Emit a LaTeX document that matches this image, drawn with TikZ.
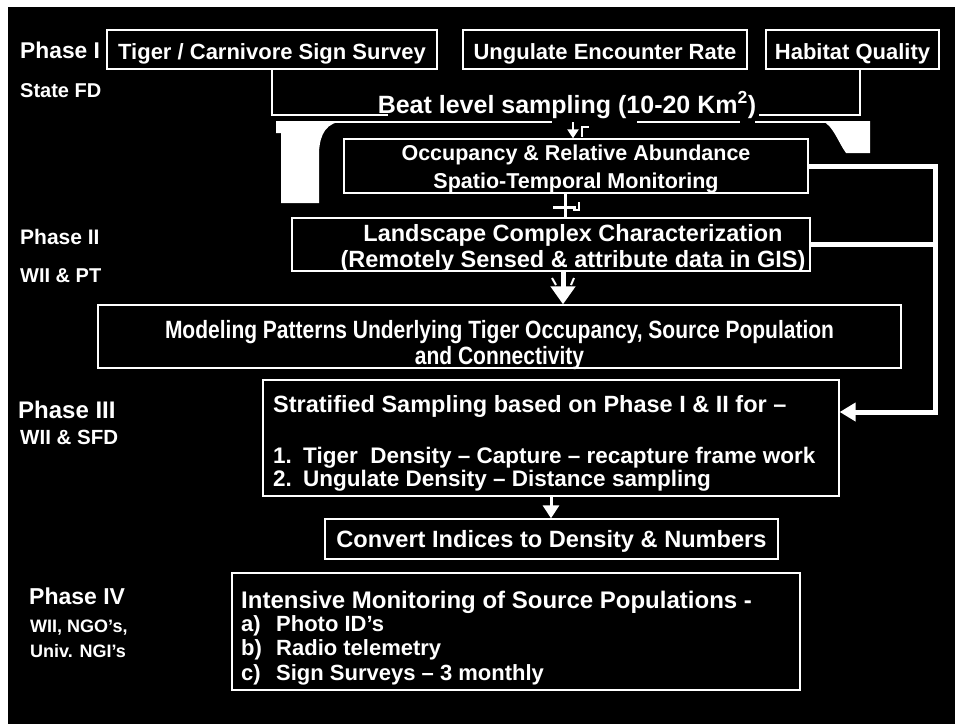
\documentclass[tikz,border=0pt]{standalone}
\usepackage{fontspec}
\setmainfont{Liberation Sans}
\newfontfamily\narrowfont[FakeStretch=0.84]{Liberation Sans}
\usetikzlibrary{arrows.meta}
\newcommand\fsz[2]{\fontsize{#1}{#2}\selectfont\bfseries}
\newcommand\nfsz[2]{\narrowfont\fontsize{#1}{#2}\selectfont\bfseries}
\begin{document}
\begin{tikzpicture}[x=1pt,y=-1pt,
  box/.style={draw=white, line width=1.3pt, inner sep=0pt, text=white, align=center},
  lab/.style={anchor=base west, inner sep=0pt, text=white},
  wl/.style={draw=white, line width=#1},
  ]
\useasboundingbox (0,0) rectangle (955,724);
\fill[white] (0,0) rectangle (955,724);
\fill[black] (8,7) rectangle (955,724);

% top boxes
\node[box, minimum width=330pt, minimum height=39pt, text height=19pt, text depth=0pt, font=\fsz{22}{26}] (tiger) at (272,49.5) {Tiger / Carnivore Sign Survey};
\node[box, minimum width=284pt, minimum height=39pt, text height=19pt, text depth=0pt, font=\fsz{22}{26}] (ung) at (605,49.5) {Ungulate Encounter Rate};
\node[box, minimum width=173pt, minimum height=39pt, text height=19pt, text depth=0pt, font=\fsz{22}{26}] (hab) at (852.5,49.5) {Habitat Quality};

% phase labels
\node[lab, font=\fsz{22.8}{26}] (p1) at (20,58) {Phase I};
\node[lab, font=\fsz{20}{24}] (a1) at (20,97) {State FD};
\node[lab, font=\fsz{21}{24}] (p2) at (20,244.5) {Phase II};
\node[lab, font=\fsz{20}{24}] (a2) at (20,282) {WII \& PT};
\node[lab, font=\fsz{24}{28}] (p3) at (18,418.5) {Phase III};
\node[lab, font=\fsz{20.5}{24}] (a3) at (20,444) {WII \& SFD};
\node[lab, font=\fsz{23}{26}] (p4) at (29,604) {Phase IV};
\node[lab, font=\fsz{18}{24}] (a4) at (30,632) {WII, NGO’s,};
\node[lab, font=\fsz{18}{24}] (a5) at (30,657) {Univ. NGI’s};

% beat level
\node[lab, anchor=base, font=\fsz{25}{28}] (beat) at (567,113) {Beat level sampling (10-20 Km\textsuperscript{2})};

% main boxes
\node[box, minimum width=464pt, minimum height=54pt, text height=45.4pt, text depth=0pt, font=\fsz{21.5}{28}] (occ) at (576,166) {Occupancy \& Relative Abundance\\Spatio-Temporal Monitoring};
\node[box, minimum width=518pt, minimum height=53pt, text height=46.2pt, text depth=0pt, font=\fsz{23.5}{26}] (land) at (551,244.5) {\hspace*{44pt}Landscape Complex Characterization\\\hspace*{44pt}(Remotely Sensed \& attribute data in GIS)};
\node[box, minimum width=803pt, minimum height=63pt, text height=55pt, text depth=0pt, font=\nfsz{25}{26}] (mod) at (499.5,336.5) {Modeling Patterns Underlying Tiger Occupancy, Source Population\\and Connectivity};
\node[box, minimum width=576pt, minimum height=116pt] (strat) at (551,438) {};
\node[box, minimum width=453pt, minimum height=40pt, text height=17pt, text depth=0pt, font=\fsz{23.6}{26}] (conv) at (551.5,539) {Convert Indices to Density \& Numbers};
\node[box, minimum width=568pt, minimum height=117pt] (intens) at (516,631.5) {};

% text in stratified box
\node[lab, font=\fsz{23.5}{26}] (s0) at (273,412) {Stratified Sampling based on Phase I \& II for –};
\node[lab, font=\fsz{22.5}{26}] (s1) at (273,463) {\makebox[30pt][l]{1.}Tiger\ \ Density – Capture – recapture frame work};
\node[lab, font=\fsz{22.5}{26}] (s2) at (273,486) {\makebox[30pt][l]{2.}Ungulate Density – Distance sampling};

% text in intensive box
\node[lab, font=\fsz{24}{26}] (i0) at (241,608) {Intensive Monitoring of Source Populations -};
\node[lab, font=\fsz{22}{24}] (i1) at (241,631) {\makebox[35pt][l]{a)}Photo ID’s};
\node[lab, font=\fsz{22}{24}] (i2) at (241,655) {\makebox[35pt][l]{b)}Radio telemetry};
\node[lab, font=\fsz{22}{24}] (i3) at (241,680) {\makebox[35pt][l]{c)}Sign Surveys – 3 monthly};

% top bracket lines
\coordinate (tl) at (388,115);
\coordinate (tr) at (759,115);
\draw[wl=2pt] (tiger.south) |- (tl);
\draw[wl=2pt] ([xshift=7.5pt]hab.south) |- (tr);
\coordinate (u1) at (335,122); \coordinate (u2) at (552,122);
\coordinate (u3) at (637,122); \coordinate (u4) at (740,122);
\coordinate (u5) at (755,122); \coordinate (u6) at (866,122);
\draw[wl=2.5pt] (u1) -- (u2);
\draw[wl=2.5pt] (u3) -- (u4);
\draw[wl=2.5pt] (u5) -- (u6);
\fill[white] (276,121) -- (345,121) .. controls (326,122) and (320,134) .. (319,152) -- (319,203) -- (281,203) -- (281,133) -- (276,133) -- cycle;
\fill[white] (822,121) -- (870,121) -- (870,153) -- (846,153) .. controls (838,142) and (833,125) .. (822,121) -- cycle;

% beat -> occupancy
\coordinate (ba) at (573,122);
\draw[wl=2.5pt, -{Triangle[width=11pt,length=9pt]}] (ba) -- (ba |- occ.north);
\draw[wl=2pt] (582,137) -- (582,127) -- (589,127);

% occupancy -> landscape
\draw[wl=3pt] ([xshift=-11pt]occ.south) -- ([xshift=-11pt]occ.south |- land.north);
\draw[wl=3pt] (553,207) -- (576,207);
\draw[wl=2pt] (579,202) -- (579,210) -- (573,210);

% landscape -> modeling
\draw[wl=5pt, -{Triangle[width=24pt,length=18pt]}] ([xshift=12pt]land.south) -- ([xshift=12pt]land.south |- mod.north);
\draw[wl=2pt] (552,278) -- (556,285);
\draw[wl=2pt] (574,278) -- (571,285);

% stratified -> convert
\draw[wl=3pt, -{Triangle[width=16pt,length=13pt]}] (strat.south) -- (strat.south |- conv.north);

% right feedback connector
\coordinate (rc) at (935,412);
\draw[wl=5pt] (land.east) -- (land.east -| rc);
\draw[wl=5pt, line join=miter, -{Triangle[width=18pt,length=16pt]}] (occ.east) -| (rc) -- (rc -| strat.east);
\end{tikzpicture}
\end{document}
